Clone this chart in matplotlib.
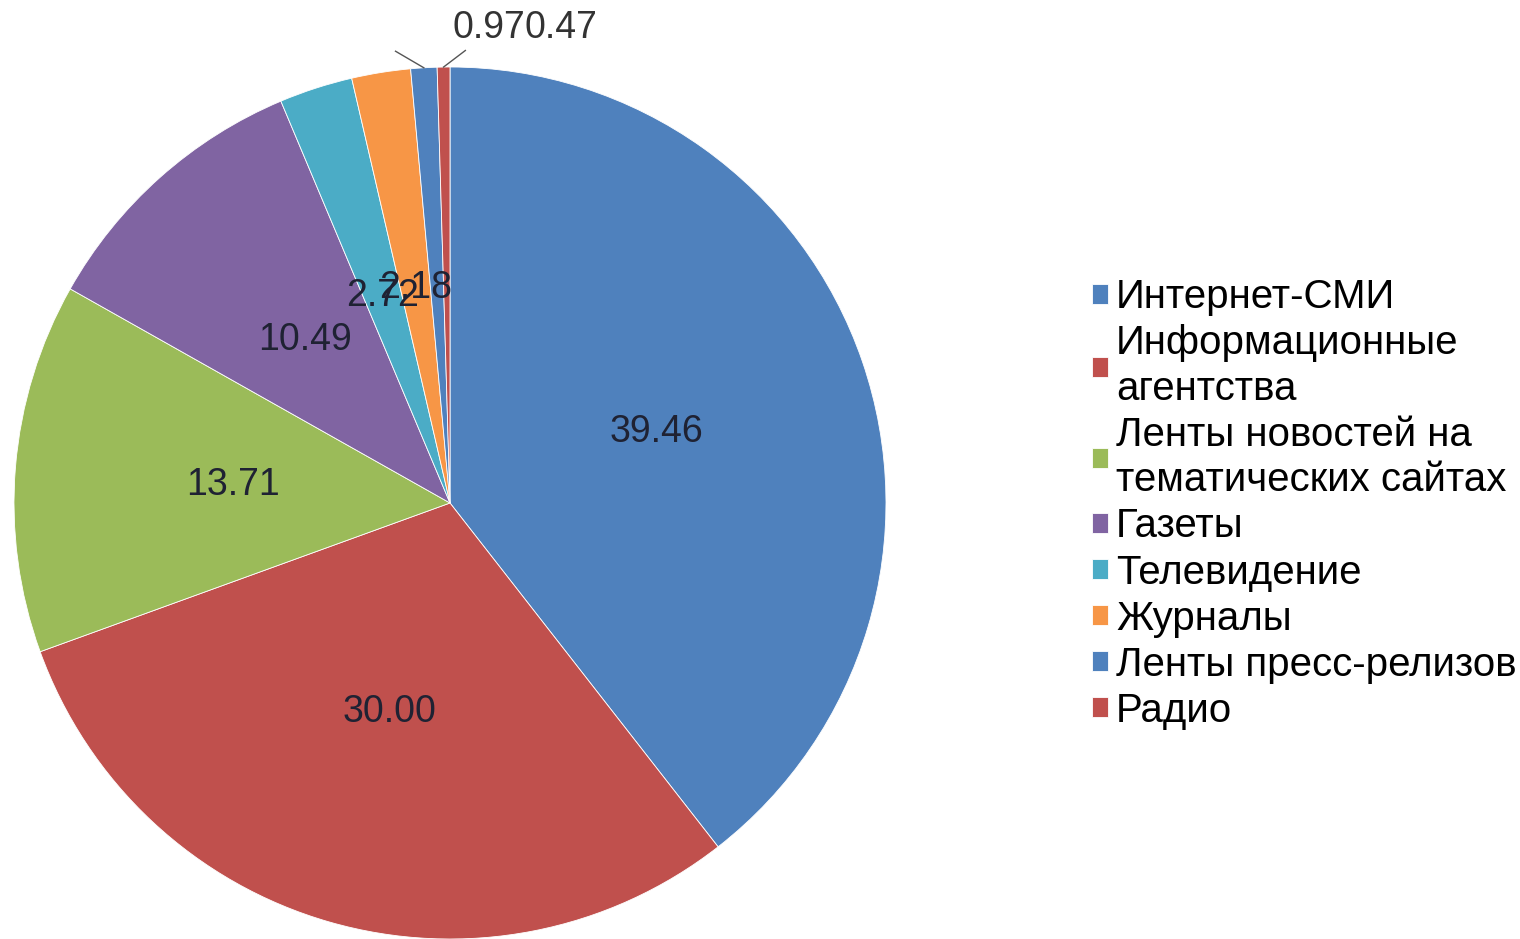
import numpy as np
import matplotlib.pyplot as plt

categories = ['Интернет-СМИ', 'Информационные\nагентства', 'Ленты новостей на\nтематических сайтах',
              'Газеты', 'Телевидение', 'Журналы', 'Ленты пресс-релизов', 'Радио']
shares = [39.46, 30.00, 13.71, 10.49, 2.72, 2.18, 0.97, 0.47]
colors = ['#4F81BD', '#C0504D', '#9BBB59', '#8064A2', '#4BACC6', '#F79646', '#4F81BD', '#C0504D']

plt.rcParams['font.family'] = ['Liberation Sans', 'DejaVu Sans']
fig = plt.figure(figsize=(15.2, 9.39), dpi=100)
ax = fig.add_axes([14/1520, 0, 872/1520, 872/939])

wedges, _ = ax.pie(shares, colors=colors, startangle=90, counterclock=False, radius=1,
                   wedgeprops=dict(edgecolor='white', linewidth=0.6))
ax.set_xlim(-1, 1)
ax.set_ylim(-1, 1)
ax.set_aspect('equal')

# labels inside the slices, the two smallest outside with leader lines
label_color = '#1f2233'
for i, w in enumerate(wedges):
    ang = np.deg2rad((w.theta1 + w.theta2) / 2)
    if i < 6:
        ax.text(0.5*np.cos(ang), 0.5*np.sin(ang), f'{shares[i]:.2f}', ha='center', va='center',
                fontsize=27, color=label_color)
    else:
        ex, ey = np.cos(ang), np.sin(ang)
        dx = -0.065 if i == 6 else 0.05
        ax.plot([ex, ex + dx], [ey, ey + 0.038], color='#555555', lw=1, clip_on=False)

ax.text(0.172, 1.089, f'{shares[6]:.2f}', ha='right', va='center', fontsize=27,
        color='#333333', clip_on=False)
ax.text(0.172, 1.089, f'{shares[7]:.2f}', ha='left', va='center', fontsize=27,
        color='#333333', clip_on=False)

leg = fig.legend(wedges, categories, loc='center left', bbox_to_anchor=(1092/1520, 1 - 504/939),
                 frameon=False, fontsize=29, handlelength=0.4, handleheight=0.4, handletextpad=0.2,
                 labelspacing=0.2, borderpad=0, borderaxespad=0)
for t in leg.get_texts():
    t.set_linespacing(1.25)

fig.savefig('out.png', dpi=100)
